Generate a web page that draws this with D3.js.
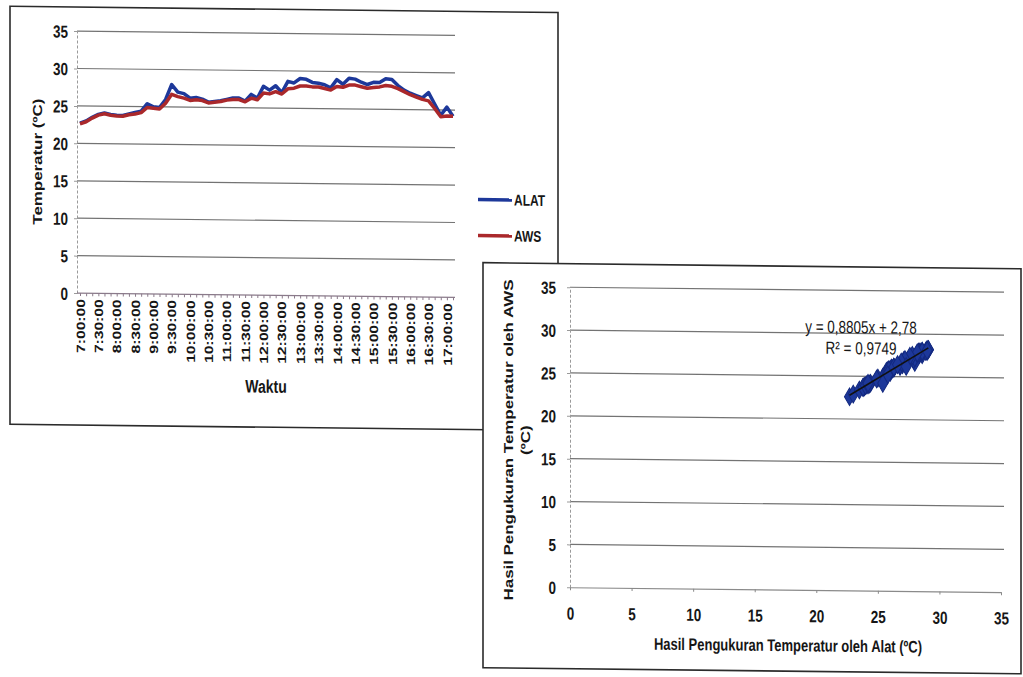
<!DOCTYPE html>
<html>
<head>
<meta charset="utf-8">
<script src="https://cdn.jsdelivr.net/npm/d3@7"></script>
<style>
  body { margin: 0; background: #fff; }
  svg { display: block; }
  text { font-family: "Liberation Sans", Arial, sans-serif; fill: #161616; }
</style>
</head>
<body>
<script>
// waktu pengukuran (tiap 10 menit)
const times = [
  "7:00:00", "7:10:00", "7:20:00", "7:30:00", "7:40:00", "7:50:00",
  "8:00:00", "8:10:00", "8:20:00", "8:30:00", "8:40:00", "8:50:00",
  "9:00:00", "9:10:00", "9:20:00", "9:30:00", "9:40:00", "9:50:00",
  "10:00:00", "10:10:00", "10:20:00", "10:30:00", "10:40:00", "10:50:00",
  "11:00:00", "11:10:00", "11:20:00", "11:30:00", "11:40:00", "11:50:00",
  "12:00:00", "12:10:00", "12:20:00", "12:30:00", "12:40:00", "12:50:00",
  "13:00:00", "13:10:00", "13:20:00", "13:30:00", "13:40:00", "13:50:00",
  "14:00:00", "14:10:00", "14:20:00", "14:30:00", "14:40:00", "14:50:00",
  "15:00:00", "15:10:00", "15:20:00", "15:30:00", "15:40:00", "15:50:00",
  "16:00:00", "16:10:00", "16:20:00", "16:30:00", "16:40:00", "16:50:00",
  "17:00:00", "17:10:00"
];

const alat = [
  22.7, 23.0, 23.5, 23.9, 24.1, 23.9,
  23.8, 23.8, 24.0, 24.2, 24.4, 25.4,
  25.0, 24.9, 26.0, 28.0, 27.0, 26.8,
  26.2, 26.3, 26.1, 25.7, 25.8, 25.9,
  26.1, 26.3, 26.3, 25.9, 26.8, 26.3,
  27.9, 27.4, 28.0, 27.1, 28.6, 28.4,
  29.0, 28.9, 28.5, 28.4, 28.2, 27.8,
  28.9, 28.3, 29.1, 29.0, 28.6, 28.3,
  28.6, 28.6, 29.1, 29.0, 28.2, 27.6,
  27.2, 26.9, 26.6, 27.3, 25.8, 24.3,
  25.4, 24.2
];

const aws = [
  22.6, 22.9, 23.4, 23.8, 24.0, 23.8,
  23.7, 23.7, 23.9, 24.0, 24.2, 24.9,
  24.8, 24.7, 25.5, 26.7, 26.4, 26.2,
  25.9, 26.0, 25.9, 25.6, 25.7, 25.8,
  26.0, 26.1, 26.1, 25.8, 26.3, 26.1,
  27.0, 26.9, 27.2, 26.9, 27.6, 27.7,
  28.0, 28.0, 27.9, 27.9, 27.7, 27.5,
  28.0, 27.9, 28.2, 28.2, 28.0, 27.8,
  27.9, 28.0, 28.2, 28.1, 27.8, 27.4,
  27.0, 26.7, 26.4, 26.2, 25.2, 24.1,
  24.2, 24.2
];

const tempTicks = [0, 5, 10, 15, 20, 25, 30, 35];
const seriesNames = ["ALAT", "AWS"];
const trendSlope = 0.8805;
const trendIntercept = 2.78;
const trendText = "y = 0,8805x + 2,78";
const r2Text = "R² = 0,9749";

const SY = 1.3; // scan is stretched vertically
const st = (x, y, r) => `translate(${x},${y}) scale(1,${SY})` + (r ? ` rotate(${r})` : "");
const blue = "#1d389a", red = "#aa282b", grid = "#737373";

const svg = d3.select("body").append("svg")
  .attr("width", 1023)
  .attr("height", 677);

// the scanned page is slightly skewed
const root = svg.append("g")
  .attr("transform", "translate(512,338) skewY(0.65) translate(-512,-338)");

// ---------- chart 1 : time series ----------
const c1 = root.append("g");
c1.append("rect")
  .attr("x", 10).attr("y", 12).attr("width", 548).attr("height", 418)
  .attr("fill", "#fff").attr("stroke", "#2b2b2b").attr("stroke-width", 1.6);

const x1 = d3.scalePoint().domain(d3.range(times.length)).range([80, 453]);
const y1 = d3.scaleLinear().domain([0, 35]).range([298, 36]);

c1.append("g").selectAll("line")
  .data(tempTicks.filter(d => d > 0))
  .join("line")
  .attr("x1", 77).attr("x2", 455)
  .attr("y1", d => y1(d)).attr("y2", d => y1(d))
  .attr("stroke", grid).attr("stroke-width", 1.2);

const ya1 = c1.append("g")
  .attr("transform", "translate(77,0)")
  .call(d3.axisLeft(y1).tickValues(tempTicks).tickSize(3).tickSizeOuter(0).tickPadding(6));
ya1.select(".domain").attr("stroke", "#9a9a9a").attr("stroke-dasharray", "3,2");
ya1.selectAll(".tick line").attr("stroke", "#9a9a9a");
ya1.selectAll("text")
  .attr("font-size", 13.5).attr("font-weight", "bold")
  .attr("dy", null)
  .attr("transform", st(0, 0.358 * 13.5 * SY));

c1.append("line")
  .attr("x1", 77).attr("x2", 455).attr("y1", y1(0)).attr("y2", y1(0))
  .attr("stroke", "#8a7a8a").attr("stroke-width", 1.2);

const xa1 = c1.append("g")
  .attr("transform", `translate(0,${y1(0)})`)
  .call(d3.axisBottom(x1).tickSize(3).tickSizeOuter(0)
    .tickFormat(i => i % 3 === 0 ? times[i] : ""));
xa1.select(".domain").remove();
xa1.selectAll(".tick line").attr("stroke", "#8a7a8a");
xa1.selectAll("text")
  .attr("font-size", 12).attr("font-weight", "bold")
  .attr("text-anchor", "end")
  .attr("x", null).attr("y", null)
  .attr("dy", "0.35em")
  .attr("transform", st(0, 6, -90));

const line1 = d3.line().x((d, i) => x1(i)).y(d => y1(d));
c1.append("path").datum(alat)
  .attr("d", line1).attr("fill", "none")
  .attr("stroke", blue).attr("stroke-width", 3.5).attr("stroke-linejoin", "round");
c1.append("path").datum(aws)
  .attr("d", line1).attr("fill", "none")
  .attr("stroke", red).attr("stroke-width", 3.5).attr("stroke-linejoin", "round");

c1.append("text")
  .attr("text-anchor", "middle").attr("dy", "0.35em")
  .attr("font-size", 13).attr("font-weight", "bold")
  .attr("transform", st(37, 167, -90))
  .text("Temperatur (ºC)");

c1.append("text")
  .attr("text-anchor", "middle")
  .attr("font-size", 14).attr("font-weight", "bold")
  .attr("transform", st(266, 389 + 0.358 * 14 * SY))
  .text("Waktu");

const leg = c1.append("g").selectAll("g")
  .data(seriesNames)
  .join("g")
  .attr("transform", (d, i) => `translate(478,${200 + i * 36})`);
leg.append("line")
  .attr("x1", 0).attr("x2", 34)
  .attr("stroke", (d, i) => i === 0 ? blue : red).attr("stroke-width", 3.5);
leg.append("text")
  .attr("font-size", 12).attr("font-weight", "bold")
  .attr("transform", st(36, 0.358 * 12 * SY))
  .text(d => d);

// ---------- chart 2 : scatter ALAT vs AWS ----------
const c2 = root.append("g");
c2.append("rect")
  .attr("x", 483).attr("y", 263).attr("width", 538).attr("height", 405)
  .attr("fill", "#fff").attr("stroke", "#2b2b2b").attr("stroke-width", 1.6);

const x2 = d3.scaleLinear().domain([0, 35]).range([570, 1001]);
const y2 = d3.scaleLinear().domain([0, 35]).range([586.6, 286.6]);

c2.append("g").selectAll("line")
  .data(tempTicks.filter(d => d > 0))
  .join("line")
  .attr("x1", 570).attr("x2", 1004)
  .attr("y1", d => y2(d)).attr("y2", d => y2(d))
  .attr("stroke", grid).attr("stroke-width", 1.2);

const ya2 = c2.append("g")
  .attr("transform", "translate(570,0)")
  .call(d3.axisLeft(y2).tickValues(tempTicks).tickSize(3).tickSizeOuter(0).tickPadding(11));
ya2.select(".domain").attr("stroke", "#9a9a9a").attr("stroke-dasharray", "3,2");
ya2.selectAll(".tick line").attr("stroke", "#9a9a9a");
ya2.selectAll("text")
  .attr("font-size", 13.5).attr("font-weight", "bold")
  .attr("dy", null)
  .attr("transform", st(0, 0.358 * 13.5 * SY));

const xa2 = c2.append("g")
  .attr("transform", `translate(0,${y2(0)})`)
  .call(d3.axisBottom(x2).tickValues(tempTicks).tickSize(3).tickSizeOuter(0));
xa2.select(".domain").attr("stroke", "#8a8a8a").attr("stroke-width", 1.2);
xa2.selectAll(".tick line").attr("stroke", "#8a8a8a");
xa2.selectAll("text")
  .attr("font-size", 13.5).attr("font-weight", "bold")
  .attr("y", null).attr("dy", null)
  .attr("transform", st(0, 26 + 0.358 * 13.5 * SY));

const diamond = d3.symbol().type(d3.symbolDiamond).size(90);
c2.append("g").selectAll("path")
  .data(d3.range(alat.length))
  .join("path")
  .attr("d", diamond)
  .attr("transform", i => `translate(${x2(alat[i])},${y2(aws[i])})`)
  .attr("fill", blue).attr("stroke", "#142a80").attr("stroke-width", 1);

const tx = d3.extent(alat);
c2.append("line")
  .attr("x1", x2(tx[0])).attr("y1", y2(trendSlope * tx[0] + trendIntercept))
  .attr("x2", x2(tx[1])).attr("y2", y2(trendSlope * tx[1] + trendIntercept))
  .attr("stroke", "#111").attr("stroke-width", 1.6);

c2.append("text")
  .attr("text-anchor", "middle").attr("font-size", 13.5)
  .attr("transform", st(861, 323 + 0.358 * 13.5 * SY))
  .text(trendText);
c2.append("text")
  .attr("text-anchor", "middle").attr("font-size", 13.5)
  .attr("transform", st(861, 344 + 0.358 * 13.5 * SY))
  .text(r2Text);

c2.append("text")
  .attr("text-anchor", "middle").attr("dy", "0.35em")
  .attr("font-size", 13).attr("font-weight", "bold")
  .attr("transform", st(508, 440, -90))
  .text("Hasil Pengukuran Temperatur oleh AWS");
c2.append("text")
  .attr("text-anchor", "middle").attr("dy", "0.35em")
  .attr("font-size", 13).attr("font-weight", "bold")
  .attr("transform", st(525, 440, -90))
  .text("(ºC)");

c2.append("text")
  .attr("text-anchor", "middle")
  .attr("font-size", 13).attr("font-weight", "bold")
  .attr("transform", st(788, 642 + 0.358 * 13 * SY))
  .text("Hasil Pengukuran Temperatur oleh Alat (ºC)");
</script>
</body>
</html>
